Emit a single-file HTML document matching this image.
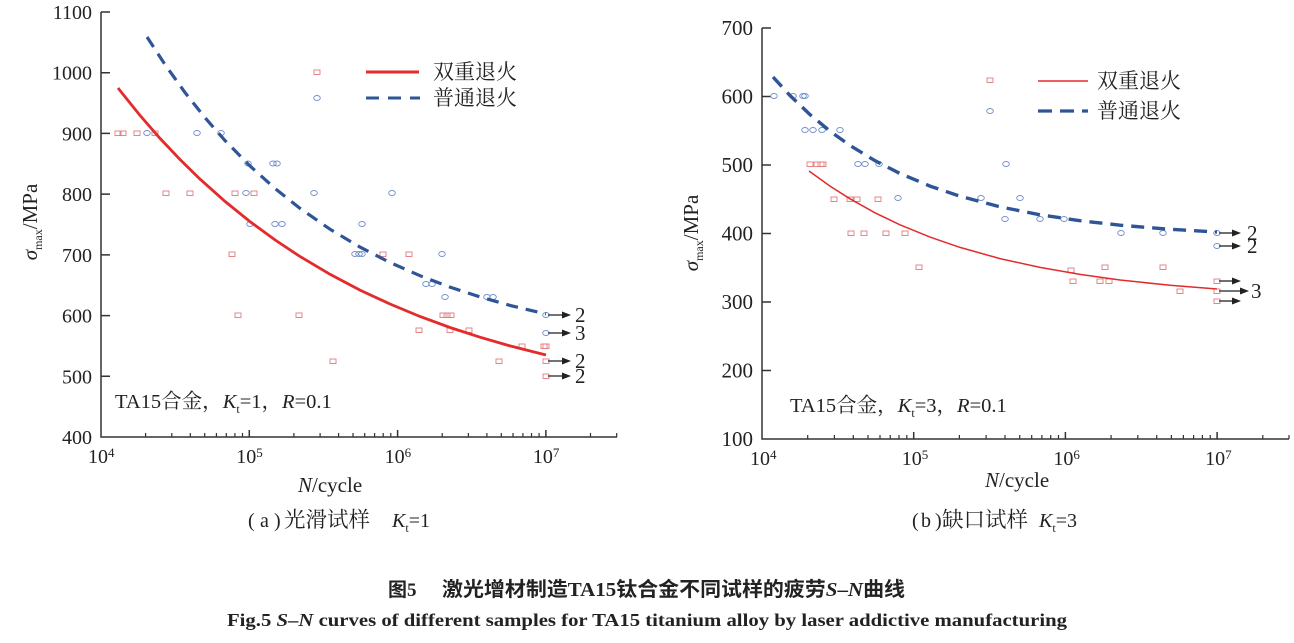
<!DOCTYPE html>
<html><head><meta charset="utf-8"><style>
html,body{margin:0;padding:0;background:#fff;}
svg{display:block;}
text{font-family:"Liberation Serif","Noto Serif CJK SC",serif;fill:#222;}
</style></head><body>
<svg width="1294" height="643" viewBox="0 0 1294 643" xmlns="http://www.w3.org/2000/svg">
<!-- ===== LEFT CHART ===== -->
<g stroke="#333" stroke-width="1.5" fill="none">
<path d="M101,12 V437 H617"/>
<path d="M101,12 H110 M101,72.7 H110 M101,133.4 H110 M101,194.1 H110 M101,254.9 H110 M101,315.6 H110 M101,376.3 H110"/>
<path d="M249.3,437 V430 M397.6,437 V430 M545.9,437 V430"/>
<path stroke-width="1.2" d="M145.6,437V433 M171.8,437V433 M190.3,437V433 M204.7,437V433 M216.4,437V433 M226.3,437V433 M234.9,437V433 M242.5,437V433
M293.9,437V433 M320.1,437V433 M338.6,437V433 M353,437V433 M364.7,437V433 M374.6,437V433 M383.2,437V433 M390.8,437V433
M442.2,437V433 M468.4,437V433 M486.9,437V433 M501.3,437V433 M513,437V433 M522.9,437V433 M531.5,437V433 M539.1,437V433
M590.5,437V433 M616.7,437V433"/>
</g>
<g font-size="20" text-anchor="end">
<text x="92" y="19">1100</text>
<text x="92" y="79.7">1000</text>
<text x="92" y="140.4">900</text>
<text x="92" y="201.1">800</text>
<text x="92" y="261.9">700</text>
<text x="92" y="322.6">600</text>
<text x="92" y="383.3">500</text>
<text x="92" y="444">400</text>
</g>
<g font-size="20">
<text x="88" y="463">10</text><text x="108" y="457" font-size="13">4</text>
<text x="236.3" y="463">10</text><text x="256.3" y="457" font-size="13">5</text>
<text x="384.6" y="463">10</text><text x="404.6" y="457" font-size="13">6</text>
<text x="532.9" y="463">10</text><text x="552.9" y="457" font-size="13">7</text>
</g>
<text x="298" y="492" font-size="21"><tspan font-style="italic">N</tspan>/cycle</text>
<text transform="translate(37,222) rotate(-90)" text-anchor="middle" font-size="21"><tspan font-style="italic">σ</tspan><tspan dy="5" font-size="12">max</tspan><tspan dy="-5">/MPa</tspan></text>
<text x="115" y="408" font-size="20.5">TA15合金，<tspan font-style="italic">K</tspan><tspan dy="5" font-size="12">t</tspan><tspan dy="-5">=1，</tspan><tspan font-style="italic">R</tspan>=0.1</text>
<text x="248" y="527" font-size="20">(</text><text x="260" y="527" font-size="20">a</text><text x="274" y="527" font-size="20">)</text>
<text x="284" y="527" font-size="21.5">光滑试样</text>
<text x="392" y="527" font-size="20"><tspan font-style="italic">K</tspan><tspan dy="5" font-size="12">t</tspan><tspan dy="-5">=1</tspan></text>

<!-- legend left -->
<line x1="366" y1="72" x2="419" y2="72" stroke="#e32b2b" stroke-width="3"/>
<line x1="366" y1="98" x2="420" y2="98" stroke="#2d5597" stroke-width="3" stroke-dasharray="13 9"/>
<text x="433" y="79" font-size="21">双重退火</text>
<text x="433" y="105" font-size="21">普通退火</text>

<!-- markers left red -->
<g fill="none" stroke="#e37a7c" stroke-width="0.9">
<rect x="115" y="131" width="6" height="4.5"/><rect x="120" y="131" width="6" height="4.5"/><rect x="134" y="131" width="6" height="4.5"/><rect x="152" y="131" width="6" height="4.5"/>
<rect x="314" y="70" width="6" height="4.5"/>
<rect x="163" y="191" width="6" height="4.5"/><rect x="187" y="191" width="6" height="4.5"/><rect x="232" y="191" width="6" height="4.5"/><rect x="251" y="191" width="6" height="4.5"/>
<rect x="229" y="252" width="6" height="4.5"/><rect x="380" y="252" width="6" height="4.5"/><rect x="406" y="252" width="6" height="4.5"/>
<rect x="235" y="313" width="6" height="4.5"/><rect x="296" y="313" width="6" height="4.5"/><rect x="440" y="313" width="6" height="4.5"/><rect x="444" y="313" width="6" height="4.5"/><rect x="448" y="313" width="6" height="4.5"/>
<rect x="416" y="328" width="6" height="4.5"/><rect x="447" y="328" width="6" height="4.5"/><rect x="466" y="328" width="6" height="4.5"/>
<rect x="519" y="344" width="6" height="4.5"/><rect x="541" y="344" width="6" height="4.5"/><rect x="543" y="344" width="6" height="4.5"/>
<rect x="330" y="359" width="6" height="4.5"/><rect x="496" y="359" width="6" height="4.5"/><rect x="543" y="359" width="6" height="4.5"/>
<rect x="543" y="374" width="6" height="4.5"/>
</g>
<!-- markers left blue -->
<g fill="none" stroke="#6f8fcb" stroke-width="0.9">
<ellipse cx="317" cy="98" rx="3.3" ry="2.5"/>
<ellipse cx="147" cy="133" rx="3.3" ry="2.5"/><ellipse cx="197" cy="133" rx="3.3" ry="2.5"/><ellipse cx="221" cy="133" rx="3.3" ry="2.5"/>
<ellipse cx="248" cy="163.5" rx="3.3" ry="2.5"/><ellipse cx="273" cy="163.5" rx="3.3" ry="2.5"/><ellipse cx="277" cy="163.5" rx="3.3" ry="2.5"/>
<ellipse cx="246" cy="193" rx="3.3" ry="2.5"/><ellipse cx="314" cy="193" rx="3.3" ry="2.5"/><ellipse cx="392" cy="193" rx="3.3" ry="2.5"/>
<ellipse cx="250" cy="224" rx="3.3" ry="2.5"/><ellipse cx="275" cy="224" rx="3.3" ry="2.5"/><ellipse cx="282" cy="224" rx="3.3" ry="2.5"/><ellipse cx="362" cy="224" rx="3.3" ry="2.5"/>
<ellipse cx="355" cy="254" rx="3.3" ry="2.5"/><ellipse cx="359" cy="254" rx="3.3" ry="2.5"/><ellipse cx="362" cy="254" rx="3.3" ry="2.5"/><ellipse cx="442" cy="254" rx="3.3" ry="2.5"/>
<ellipse cx="426" cy="284" rx="3.3" ry="2.5"/><ellipse cx="432" cy="284" rx="3.3" ry="2.5"/>
<ellipse cx="445" cy="297" rx="3.3" ry="2.5"/><ellipse cx="487" cy="297" rx="3.3" ry="2.5"/><ellipse cx="493" cy="297" rx="3.3" ry="2.5"/>
<ellipse cx="546" cy="315" rx="3.3" ry="2.5"/><ellipse cx="546" cy="333" rx="3.3" ry="2.5"/>
</g>
<!-- curves left -->
<path fill="none" stroke="#e32b2b" stroke-width="2.8" d="M118,88 L140,115.4 L160,138.4 L180,159.5 L200,179.1 L225,201.4 L250,221.6 L275,239.9 L300,256.5 L330,274.3 L360,290.1 L390,304 L420,316.5 L450,327.5 L480,337.2 L510,345.9 L546,355"/>
<path fill="none" stroke="#2d5597" stroke-width="3.2" stroke-dasharray="12 8" d="M147,37 L165,64.6 L185,92.5 L205,117.7 L225,140.5 L250,166 L275,188.5 L300,208.4 L330,229.2 L360,247.1 L390,262.5 L420,275.7 L450,287.1 L480,296.9 L510,305.4 L546,314"/>
<!-- arrows left -->
<g stroke="#222" stroke-width="1.3">
<line x1="548" y1="315" x2="565" y2="315"/><line x1="548" y1="333" x2="565" y2="333"/><line x1="548" y1="361" x2="565" y2="361"/><line x1="548" y1="376" x2="565" y2="376"/>
</g>
<g fill="#222">
<polygon points="571,315 562,311.5 562,318.5"/><polygon points="571,333 562,329.5 562,336.5"/><polygon points="571,361 562,357.5 562,364.5"/><polygon points="571,376 562,372.5 562,379.5"/>
</g>
<g font-size="21">
<text x="575" y="322">2</text><text x="575" y="340">3</text><text x="575" y="368">2</text><text x="575" y="383">2</text>
</g>

<!-- ===== RIGHT CHART ===== -->
<g stroke="#333" stroke-width="1.5" fill="none">
<path d="M762,28 V439 H1289"/>
<path d="M762,28 H771 M762,96.5 H771 M762,165 H771 M762,233.5 H771 M762,302 H771 M762,370.5 H771"/>
<path d="M913.7,439 V432 M1065.4,439 V432 M1217.1,439 V432"/>
<path stroke-width="1.2" d="M807.7,439V435 M834.4,439V435 M853.3,439V435 M868,439V435 M880,439V435 M890.2,439V435 M899,439V435 M906.8,439V435
M959.4,439V435 M986.1,439V435 M1005,439V435 M1019.7,439V435 M1031.7,439V435 M1041.9,439V435 M1050.7,439V435 M1058.5,439V435
M1111.1,439V435 M1137.8,439V435 M1156.7,439V435 M1171.4,439V435 M1183.4,439V435 M1193.6,439V435 M1202.4,439V435 M1210.2,439V435
M1262.8,439V435 M1289,439V435"/>
</g>
<g font-size="21" text-anchor="end">
<text x="753" y="35">700</text>
<text x="753" y="103.5">600</text>
<text x="753" y="172">500</text>
<text x="753" y="240.5">400</text>
<text x="753" y="309">300</text>
<text x="753" y="377.5">200</text>
<text x="753" y="446">100</text>
</g>
<g font-size="20">
<text x="750" y="465">10</text><text x="770" y="459" font-size="13">4</text>
<text x="901.7" y="465">10</text><text x="921.7" y="459" font-size="13">5</text>
<text x="1053.4" y="465">10</text><text x="1073.4" y="459" font-size="13">6</text>
<text x="1205.1" y="465">10</text><text x="1225.1" y="459" font-size="13">7</text>
</g>
<text x="985" y="487" font-size="21"><tspan font-style="italic">N</tspan>/cycle</text>
<text transform="translate(698,233) rotate(-90)" text-anchor="middle" font-size="21"><tspan font-style="italic">σ</tspan><tspan dy="5" font-size="12">max</tspan><tspan dy="-5">/MPa</tspan></text>
<text x="790" y="412" font-size="20.5">TA15合金，<tspan font-style="italic">K</tspan><tspan dy="5" font-size="12">t</tspan><tspan dy="-5">=3，</tspan><tspan font-style="italic">R</tspan>=0.1</text>
<text x="912" y="527" font-size="20">(</text><text x="921" y="527" font-size="20">b</text><text x="935" y="527" font-size="20">)</text>
<text x="942" y="527" font-size="21.5">缺口试样</text>
<text x="1039" y="527" font-size="20"><tspan font-style="italic">K</tspan><tspan dy="5" font-size="12">t</tspan><tspan dy="-5">=3</tspan></text>

<!-- legend right -->
<line x1="1038" y1="81" x2="1088" y2="81" stroke="#e32b2b" stroke-width="1.5"/>
<line x1="1038" y1="111" x2="1088" y2="111" stroke="#2d5597" stroke-width="3.2" stroke-dasharray="14 8"/>
<text x="1097" y="88" font-size="21">双重退火</text>
<text x="1097" y="118" font-size="21">普通退火</text>

<!-- markers right red -->
<g fill="none" stroke="#e37a7c" stroke-width="0.9">
<rect x="987" y="78" width="6" height="4.5"/>
<rect x="807" y="162" width="6" height="4.5"/><rect x="814" y="162" width="6" height="4.5"/><rect x="818" y="162" width="6" height="4.5"/><rect x="820" y="162" width="6" height="4.5"/>
<rect x="831" y="197" width="6" height="4.5"/><rect x="847" y="197" width="6" height="4.5"/><rect x="854" y="197" width="6" height="4.5"/><rect x="875" y="197" width="6" height="4.5"/>
<rect x="848" y="231" width="6" height="4.5"/><rect x="861" y="231" width="6" height="4.5"/><rect x="883" y="231" width="6" height="4.5"/><rect x="902" y="231" width="6" height="4.5"/>
<rect x="916" y="265" width="6" height="4.5"/><rect x="1102" y="265" width="6" height="4.5"/><rect x="1160" y="265" width="6" height="4.5"/>
<rect x="1068" y="268" width="6" height="4.5"/>
<rect x="1070" y="279" width="6" height="4.5"/><rect x="1097" y="279" width="6" height="4.5"/><rect x="1106" y="279" width="6" height="4.5"/><rect x="1214" y="279" width="6" height="4.5"/>
<rect x="1177" y="289" width="6" height="4.5"/><rect x="1214" y="289" width="6" height="4.5"/>
<rect x="1214" y="299" width="6" height="4.5"/>
</g>
<!-- markers right blue -->
<g fill="none" stroke="#6f8fcb" stroke-width="0.9">
<ellipse cx="774" cy="96" rx="3.3" ry="2.5"/><ellipse cx="793" cy="96" rx="3.3" ry="2.5"/><ellipse cx="803" cy="96" rx="3.3" ry="2.5"/><ellipse cx="805" cy="96" rx="3.3" ry="2.5"/>
<ellipse cx="990" cy="111" rx="3.3" ry="2.5"/>
<ellipse cx="805" cy="130" rx="3.3" ry="2.5"/><ellipse cx="813" cy="130" rx="3.3" ry="2.5"/><ellipse cx="822" cy="130" rx="3.3" ry="2.5"/><ellipse cx="840" cy="130" rx="3.3" ry="2.5"/>
<ellipse cx="858" cy="164" rx="3.3" ry="2.5"/><ellipse cx="865" cy="164" rx="3.3" ry="2.5"/><ellipse cx="879" cy="164" rx="3.3" ry="2.5"/><ellipse cx="1006" cy="164" rx="3.3" ry="2.5"/>
<ellipse cx="898" cy="198" rx="3.3" ry="2.5"/><ellipse cx="981" cy="198" rx="3.3" ry="2.5"/><ellipse cx="1020" cy="198" rx="3.3" ry="2.5"/>
<ellipse cx="1005" cy="219" rx="3.3" ry="2.5"/><ellipse cx="1040" cy="219" rx="3.3" ry="2.5"/><ellipse cx="1064" cy="219" rx="3.3" ry="2.5"/>
<ellipse cx="1121" cy="233" rx="3.3" ry="2.5"/><ellipse cx="1163" cy="233" rx="3.3" ry="2.5"/><ellipse cx="1217" cy="233" rx="3.3" ry="2.5"/>
<ellipse cx="1217" cy="246" rx="3.3" ry="2.5"/>
</g>
<!-- curves right -->
<path fill="none" stroke="#e32b2b" stroke-width="1.5" d="M809,171 L830,186.1 L850,198.8 L875,212.8 L900,224.8 L930,237.1 L960,247.4 L1000,258.6 L1040,267.4 L1080,274.4 L1120,280 L1170,285.3 L1217,289"/>
<path fill="none" stroke="#2d5597" stroke-width="3.4" stroke-dasharray="13 8" d="M773,77 L790,95.5 L810,114.6 L830,131.1 L850,145.5 L875,160.7 L900,173.5 L930,186.1 L960,196.2 L1000,206.8 L1040,214.8 L1080,220.7 L1120,225.2 L1170,229.3 L1217,232"/>
<!-- arrows right -->
<g stroke="#222" stroke-width="1.3">
<line x1="1219" y1="233" x2="1235" y2="233"/><line x1="1219" y1="246" x2="1235" y2="246"/>
<line x1="1219" y1="281" x2="1235" y2="281"/><line x1="1219" y1="291" x2="1243" y2="291"/><line x1="1219" y1="301" x2="1235" y2="301"/>
</g>
<g fill="#222">
<polygon points="1241,233 1232,229.5 1232,236.5"/><polygon points="1241,246 1232,242.5 1232,249.5"/>
<polygon points="1241,281 1232,277.5 1232,284.5"/><polygon points="1249,291 1240,287.5 1240,294.5"/><polygon points="1241,301 1232,297.5 1232,304.5"/>
</g>
<g font-size="21">
<text x="1247" y="240">2</text><text x="1247" y="253">2</text><text x="1251" y="298">3</text>
</g>

<!-- ===== CAPTIONS ===== -->
<g font-weight="bold">
<text x="388" y="596" font-size="19" style="font-family:'Liberation Serif','Noto Sans CJK SC',sans-serif">图5</text>
<text x="442" y="596" font-size="20" textLength="463" lengthAdjust="spacingAndGlyphs" style="font-family:'Liberation Serif','Noto Sans CJK SC',sans-serif">激光增材制造TA15钛合金不同试样的疲劳<tspan font-style="italic">S</tspan>–<tspan font-style="italic">N</tspan>曲线</text>
<text x="227" y="626" font-size="17.5" textLength="840" lengthAdjust="spacingAndGlyphs" style="font-family:'Liberation Serif',serif">Fig.5  <tspan font-style="italic">S</tspan>–<tspan font-style="italic">N</tspan> curves of different samples for TA15 titanium alloy by laser addictive manufacturing</text>
</g>
</svg>
</body></html>
